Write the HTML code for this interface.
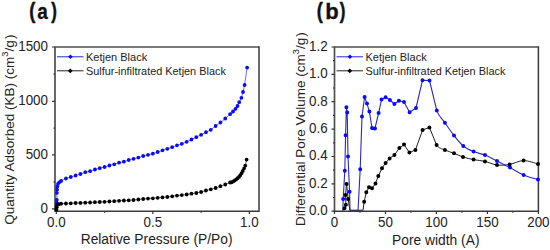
<!DOCTYPE html>
<html><head><meta charset="utf-8"><style>
html,body{margin:0;padding:0;background:#fff;width:550px;height:250px;overflow:hidden}
svg{display:block}
</style></head><body>
<svg width="550" height="250" viewBox="0 0 550 250">
<rect width="550" height="250" fill="#fff"/>
<text transform="translate(29.3 17.8) scale(0.8 1)" font-family='"Liberation Sans", sans-serif' font-weight="bold" font-size="22.6" fill="#111" stroke="#111" stroke-width="0.5">(</text><text transform="translate(37.3 18.9) scale(0.88 1)" font-family='"Liberation Sans", sans-serif' font-weight="bold" font-size="21.5" fill="#111" stroke="#111" stroke-width="0.3">a</text><text transform="translate(51.2 17.8) scale(0.75 1)" font-family='"Liberation Sans", sans-serif' font-weight="bold" font-size="22.6" fill="#111" stroke="#111" stroke-width="0.5">)</text>
<text transform="translate(316.8 17.8) scale(0.8 1)" font-family='"Liberation Sans", sans-serif' font-weight="bold" font-size="22.6" fill="#111" stroke="#111" stroke-width="0.5">(</text><text transform="translate(325.2 18.9) scale(1.0 1)" font-family='"Liberation Sans", sans-serif' font-weight="bold" font-size="22" fill="#111" stroke="#111" stroke-width="0.3">b</text><text transform="translate(339.8 17.8) scale(0.75 1)" font-family='"Liberation Sans", sans-serif' font-weight="bold" font-size="22.6" fill="#111" stroke="#111" stroke-width="0.5">)</text>
<path d="M55 211.2V47H259" fill="none" stroke="#505050" stroke-width="1.7"/><path d="M54.2 211.2H259V46.2" fill="none" stroke="#3a3a3a" stroke-width="1.5"/>
<path d="M334.5 211.2V47H538.4" fill="none" stroke="#505050" stroke-width="1.7"/><path d="M333.7 211.2H538.4V46.2" fill="none" stroke="#3a3a3a" stroke-width="1.5"/>
<path d="M52 208.8H55 M52 154.8H55 M52 101.3H55 M52 47H55 M53.5 181.8H55 M53.5 128.05H55 M53.5 74.15H55 M56.3 211.2V214 M152.85 211.2V214 M249.4 211.2V214 M104.6 211.2V212.8 M201.1 211.2V212.8 M331.5 211.2H334.5 M333 197.5H334.5 M331.5 183.8H334.5 M333 170.1H334.5 M331.5 156.5H334.5 M333 142.8H334.5 M331.5 129.1H334.5 M333 115.4H334.5 M331.5 101.7H334.5 M333 88.0H334.5 M331.5 74.4H334.5 M333 60.7H334.5 M331.5 47.0H334.5 M334.5 211.2V214 M360.0 211.2V212.8 M385.5 211.2V214 M411.0 211.2V212.8 M436.4 211.2V214 M461.9 211.2V212.8 M487.4 211.2V214 M512.9 211.2V212.8 M538.4 211.2V214" stroke="#333" stroke-width="1.2" fill="none"/>
<g font-family='"Liberation Sans", sans-serif' font-size="14" fill="#222"><text transform="translate(48.0 212.80) scale(0.957 1)" text-anchor="end">0</text><text transform="translate(48.0 158.80) scale(0.957 1)" text-anchor="end">500</text><text transform="translate(48.0 105.30) scale(0.957 1)" text-anchor="end">1000</text><text transform="translate(48.0 51.00) scale(0.957 1)" text-anchor="end">1500</text><text transform="translate(56.3 227) scale(0.957 1)" text-anchor="middle">0.0</text><text transform="translate(152.85 227) scale(0.957 1)" text-anchor="middle">0.5</text><text transform="translate(249.4 227) scale(0.957 1)" text-anchor="middle">1.0</text><text transform="translate(327.6 215.20) scale(0.957 1)" text-anchor="end">0.0</text><text transform="translate(327.6 187.83) scale(0.957 1)" text-anchor="end">0.2</text><text transform="translate(327.6 160.47) scale(0.957 1)" text-anchor="end">0.4</text><text transform="translate(327.6 133.10) scale(0.957 1)" text-anchor="end">0.6</text><text transform="translate(327.6 105.73) scale(0.957 1)" text-anchor="end">0.8</text><text transform="translate(327.6 78.37) scale(0.957 1)" text-anchor="end">1.0</text><text transform="translate(327.6 51.00) scale(0.957 1)" text-anchor="end">1.2</text><text transform="translate(334.50 227) scale(0.957 1)" text-anchor="middle">0</text><text transform="translate(385.48 227) scale(0.957 1)" text-anchor="middle">50</text><text transform="translate(436.45 227) scale(0.957 1)" text-anchor="middle">100</text><text transform="translate(487.42 227) scale(0.957 1)" text-anchor="middle">150</text><text transform="translate(538.40 227) scale(0.957 1)" text-anchor="middle">200</text></g>
<text x="156.6" y="244.4" text-anchor="middle" font-family='"Liberation Sans", sans-serif' font-size="13.8" fill="#222">Relative Pressure (P/Po)</text>
<text x="435.8" y="245.4" text-anchor="middle" font-family='"Liberation Sans", sans-serif' font-size="13.8" fill="#222">Pore width (A)</text>
<text transform="translate(13.6 129.6) rotate(-90)" text-anchor="middle" font-family='"Liberation Sans", sans-serif' font-size="13.5" fill="#222">Quantity Adsorbed (KB) (cm<tspan font-size="9.4" dy="-5.2">3</tspan><tspan dy="5.2">/g</tspan><tspan dx="1.2">)</tspan></text>
<text transform="translate(304.6 129.0) rotate(-90)" text-anchor="middle" font-family='"Liberation Sans", sans-serif' font-size="13.5" fill="#222">Differential Pore Volume (cm<tspan font-size="9.4" dy="-5.2">3</tspan><tspan dy="5.2">/g</tspan><tspan dx="1.2">)</tspan></text>
<path d="M57 56.8H83.5" stroke="#2828d0" stroke-width="1.0"/>
<path d="M70.4 54.5L72.7 56.8L70.4 59.1L68.1 56.8Z" fill="#0a0aff"/>
<path d="M57 70.8H83.5" stroke="#222" stroke-width="1.0"/>
<path d="M70.3 68.4L72.7 70.8L70.3 73.2L67.9 70.8Z" fill="#000"/>
<text x="86" y="61" font-family='"Liberation Sans", sans-serif' font-size="11" fill="#222">Ketjen Black</text>
<text x="86" y="75.2" font-family='"Liberation Sans", sans-serif' font-size="10.9" fill="#222">Sulfur-infiltrated Ketjen Black</text>
<path d="M336.5 56.8H363.0" stroke="#2828d0" stroke-width="1.0"/>
<path d="M349.9 54.5L352.2 56.8L349.9 59.1L347.6 56.8Z" fill="#0a0aff"/>
<path d="M336.5 70.8H363.0" stroke="#222" stroke-width="1.0"/>
<path d="M349.8 68.4L352.2 70.8L349.8 73.2L347.4 70.8Z" fill="#000"/>
<text x="365.5" y="61" font-family='"Liberation Sans", sans-serif' font-size="11" fill="#222">Ketjen Black</text>
<text x="365.5" y="75.2" font-family='"Liberation Sans", sans-serif' font-size="10.9" fill="#222">Sulfur-infiltrated Ketjen Black</text>
<path d="M56.6 207.0 L56.7 203.0 L56.8 199.8 L56.9 192.8 L57.1 189.5 L57.4 186.5 L58.0 184.0 L59.2 182.3 L61.1 181.0 L66.0 178.5 L70.8 177.0 L75.6 175.5 L80.4 174.0 L85.3 172.2 L90.1 171.2 L94.9 169.5 L99.7 168.2 L104.6 167.0 L109.4 165.5 L114.2 164.3 L119.1 162.7 L123.9 161.7 L128.7 160.0 L133.5 158.8 L138.4 157.6 L143.2 156.0 L148.0 154.8 L152.8 153.7 L157.7 152.0 L162.5 150.3 L167.3 148.8 L172.2 147.2 L177.0 145.3 L181.8 143.8 L186.6 141.8 L191.5 139.5 L196.3 137.2 L201.1 134.8 L206.0 132.2 L210.8 129.8 L215.6 126.0 L220.4 122.5 L225.3 118.5 L230.1 114.2 L233.0 111.5 L235.5 108.8 L237.5 106.0 L239.2 102.2 L241.4 97.8 L243.0 92.0 L244.6 85.0 L247.1 67.6" stroke="#0a0aff" stroke-width="0.6" fill="none"/>
<path d="M54.70 207.00a1.9 1.9 0 1 0 3.80 0a1.9 1.9 0 1 0 -3.80 0ZM54.80 203.00a1.9 1.9 0 1 0 3.80 0a1.9 1.9 0 1 0 -3.80 0ZM54.90 199.80a1.9 1.9 0 1 0 3.80 0a1.9 1.9 0 1 0 -3.80 0ZM55.00 192.80a1.9 1.9 0 1 0 3.80 0a1.9 1.9 0 1 0 -3.80 0ZM55.20 189.50a1.9 1.9 0 1 0 3.80 0a1.9 1.9 0 1 0 -3.80 0ZM55.50 186.50a1.9 1.9 0 1 0 3.80 0a1.9 1.9 0 1 0 -3.80 0ZM56.10 184.00a1.9 1.9 0 1 0 3.80 0a1.9 1.9 0 1 0 -3.80 0ZM57.30 182.30a1.9 1.9 0 1 0 3.80 0a1.9 1.9 0 1 0 -3.80 0ZM59.23 181.00a1.9 1.9 0 1 0 3.80 0a1.9 1.9 0 1 0 -3.80 0ZM64.05 178.50a1.9 1.9 0 1 0 3.80 0a1.9 1.9 0 1 0 -3.80 0ZM68.88 177.00a1.9 1.9 0 1 0 3.80 0a1.9 1.9 0 1 0 -3.80 0ZM73.71 175.50a1.9 1.9 0 1 0 3.80 0a1.9 1.9 0 1 0 -3.80 0ZM78.54 174.00a1.9 1.9 0 1 0 3.80 0a1.9 1.9 0 1 0 -3.80 0ZM83.36 172.20a1.9 1.9 0 1 0 3.80 0a1.9 1.9 0 1 0 -3.80 0ZM88.19 171.20a1.9 1.9 0 1 0 3.80 0a1.9 1.9 0 1 0 -3.80 0ZM93.02 169.50a1.9 1.9 0 1 0 3.80 0a1.9 1.9 0 1 0 -3.80 0ZM97.85 168.20a1.9 1.9 0 1 0 3.80 0a1.9 1.9 0 1 0 -3.80 0ZM102.67 167.00a1.9 1.9 0 1 0 3.80 0a1.9 1.9 0 1 0 -3.80 0ZM107.50 165.50a1.9 1.9 0 1 0 3.80 0a1.9 1.9 0 1 0 -3.80 0ZM112.33 164.30a1.9 1.9 0 1 0 3.80 0a1.9 1.9 0 1 0 -3.80 0ZM117.16 162.70a1.9 1.9 0 1 0 3.80 0a1.9 1.9 0 1 0 -3.80 0ZM121.98 161.70a1.9 1.9 0 1 0 3.80 0a1.9 1.9 0 1 0 -3.80 0ZM126.81 160.00a1.9 1.9 0 1 0 3.80 0a1.9 1.9 0 1 0 -3.80 0ZM131.64 158.80a1.9 1.9 0 1 0 3.80 0a1.9 1.9 0 1 0 -3.80 0ZM136.47 157.60a1.9 1.9 0 1 0 3.80 0a1.9 1.9 0 1 0 -3.80 0ZM141.29 156.00a1.9 1.9 0 1 0 3.80 0a1.9 1.9 0 1 0 -3.80 0ZM146.12 154.80a1.9 1.9 0 1 0 3.80 0a1.9 1.9 0 1 0 -3.80 0ZM150.95 153.70a1.9 1.9 0 1 0 3.80 0a1.9 1.9 0 1 0 -3.80 0ZM155.78 152.00a1.9 1.9 0 1 0 3.80 0a1.9 1.9 0 1 0 -3.80 0ZM160.60 150.30a1.9 1.9 0 1 0 3.80 0a1.9 1.9 0 1 0 -3.80 0ZM165.43 148.80a1.9 1.9 0 1 0 3.80 0a1.9 1.9 0 1 0 -3.80 0ZM170.26 147.20a1.9 1.9 0 1 0 3.80 0a1.9 1.9 0 1 0 -3.80 0ZM175.09 145.30a1.9 1.9 0 1 0 3.80 0a1.9 1.9 0 1 0 -3.80 0ZM179.91 143.80a1.9 1.9 0 1 0 3.80 0a1.9 1.9 0 1 0 -3.80 0ZM184.74 141.80a1.9 1.9 0 1 0 3.80 0a1.9 1.9 0 1 0 -3.80 0ZM189.57 139.50a1.9 1.9 0 1 0 3.80 0a1.9 1.9 0 1 0 -3.80 0ZM194.40 137.20a1.9 1.9 0 1 0 3.80 0a1.9 1.9 0 1 0 -3.80 0ZM199.22 134.80a1.9 1.9 0 1 0 3.80 0a1.9 1.9 0 1 0 -3.80 0ZM204.05 132.20a1.9 1.9 0 1 0 3.80 0a1.9 1.9 0 1 0 -3.80 0ZM208.88 129.80a1.9 1.9 0 1 0 3.80 0a1.9 1.9 0 1 0 -3.80 0ZM213.71 126.00a1.9 1.9 0 1 0 3.80 0a1.9 1.9 0 1 0 -3.80 0ZM218.53 122.50a1.9 1.9 0 1 0 3.80 0a1.9 1.9 0 1 0 -3.80 0ZM223.36 118.50a1.9 1.9 0 1 0 3.80 0a1.9 1.9 0 1 0 -3.80 0ZM228.19 114.20a1.9 1.9 0 1 0 3.80 0a1.9 1.9 0 1 0 -3.80 0ZM231.10 111.50a1.9 1.9 0 1 0 3.80 0a1.9 1.9 0 1 0 -3.80 0ZM233.60 108.80a1.9 1.9 0 1 0 3.80 0a1.9 1.9 0 1 0 -3.80 0ZM235.60 106.00a1.9 1.9 0 1 0 3.80 0a1.9 1.9 0 1 0 -3.80 0ZM237.30 102.20a1.9 1.9 0 1 0 3.80 0a1.9 1.9 0 1 0 -3.80 0ZM239.50 97.80a1.9 1.9 0 1 0 3.80 0a1.9 1.9 0 1 0 -3.80 0ZM241.10 92.00a1.9 1.9 0 1 0 3.80 0a1.9 1.9 0 1 0 -3.80 0ZM242.70 85.00a1.9 1.9 0 1 0 3.80 0a1.9 1.9 0 1 0 -3.80 0ZM245.20 67.60a1.9 1.9 0 1 0 3.80 0a1.9 1.9 0 1 0 -3.80 0Z" fill="#0a0aff"/>
<path d="M56.5 209.5 L56.8 207.0 L57.2 205.0 L58.8 204.2 L61.1 203.7 L66.0 203.5 L70.8 203.3 L75.6 203.0 L80.4 202.9 L85.3 202.7 L90.1 202.5 L94.9 202.2 L99.7 202.0 L104.6 201.8 L109.4 201.5 L114.2 201.2 L119.1 200.8 L123.9 200.5 L128.7 200.3 L133.5 200.0 L138.4 199.5 L143.2 199.0 L148.0 198.6 L152.8 198.3 L157.7 197.8 L162.5 197.4 L167.3 197.0 L172.2 196.3 L177.0 195.6 L181.8 195.1 L186.6 194.5 L191.5 193.7 L196.3 193.0 L201.1 192.0 L206.0 190.5 L210.8 189.3 L215.6 188.0 L220.4 186.2 L225.3 184.5 L230.1 182.5 L231.6 182.3 L233.2 181.4 L234.7 180.4 L236.2 179.3 L237.6 178.2 L239.0 176.9 L240.3 175.2 L241.6 173.2 L242.8 171.0 L244.1 168.3 L245.3 165.6 L246.6 159.6" stroke="#000" stroke-width="0.6" fill="none"/>
<path d="M54.60 209.50a1.9 1.9 0 1 0 3.80 0a1.9 1.9 0 1 0 -3.80 0ZM54.90 207.00a1.9 1.9 0 1 0 3.80 0a1.9 1.9 0 1 0 -3.80 0ZM55.30 205.00a1.9 1.9 0 1 0 3.80 0a1.9 1.9 0 1 0 -3.80 0ZM56.90 204.20a1.9 1.9 0 1 0 3.80 0a1.9 1.9 0 1 0 -3.80 0ZM59.23 203.70a1.9 1.9 0 1 0 3.80 0a1.9 1.9 0 1 0 -3.80 0ZM64.05 203.50a1.9 1.9 0 1 0 3.80 0a1.9 1.9 0 1 0 -3.80 0ZM68.88 203.30a1.9 1.9 0 1 0 3.80 0a1.9 1.9 0 1 0 -3.80 0ZM73.71 203.00a1.9 1.9 0 1 0 3.80 0a1.9 1.9 0 1 0 -3.80 0ZM78.54 202.90a1.9 1.9 0 1 0 3.80 0a1.9 1.9 0 1 0 -3.80 0ZM83.36 202.70a1.9 1.9 0 1 0 3.80 0a1.9 1.9 0 1 0 -3.80 0ZM88.19 202.50a1.9 1.9 0 1 0 3.80 0a1.9 1.9 0 1 0 -3.80 0ZM93.02 202.20a1.9 1.9 0 1 0 3.80 0a1.9 1.9 0 1 0 -3.80 0ZM97.85 202.00a1.9 1.9 0 1 0 3.80 0a1.9 1.9 0 1 0 -3.80 0ZM102.67 201.80a1.9 1.9 0 1 0 3.80 0a1.9 1.9 0 1 0 -3.80 0ZM107.50 201.50a1.9 1.9 0 1 0 3.80 0a1.9 1.9 0 1 0 -3.80 0ZM112.33 201.20a1.9 1.9 0 1 0 3.80 0a1.9 1.9 0 1 0 -3.80 0ZM117.16 200.80a1.9 1.9 0 1 0 3.80 0a1.9 1.9 0 1 0 -3.80 0ZM121.98 200.50a1.9 1.9 0 1 0 3.80 0a1.9 1.9 0 1 0 -3.80 0ZM126.81 200.30a1.9 1.9 0 1 0 3.80 0a1.9 1.9 0 1 0 -3.80 0ZM131.64 200.00a1.9 1.9 0 1 0 3.80 0a1.9 1.9 0 1 0 -3.80 0ZM136.47 199.50a1.9 1.9 0 1 0 3.80 0a1.9 1.9 0 1 0 -3.80 0ZM141.29 199.00a1.9 1.9 0 1 0 3.80 0a1.9 1.9 0 1 0 -3.80 0ZM146.12 198.60a1.9 1.9 0 1 0 3.80 0a1.9 1.9 0 1 0 -3.80 0ZM150.95 198.30a1.9 1.9 0 1 0 3.80 0a1.9 1.9 0 1 0 -3.80 0ZM155.78 197.80a1.9 1.9 0 1 0 3.80 0a1.9 1.9 0 1 0 -3.80 0ZM160.60 197.40a1.9 1.9 0 1 0 3.80 0a1.9 1.9 0 1 0 -3.80 0ZM165.43 197.00a1.9 1.9 0 1 0 3.80 0a1.9 1.9 0 1 0 -3.80 0ZM170.26 196.30a1.9 1.9 0 1 0 3.80 0a1.9 1.9 0 1 0 -3.80 0ZM175.09 195.60a1.9 1.9 0 1 0 3.80 0a1.9 1.9 0 1 0 -3.80 0ZM179.91 195.10a1.9 1.9 0 1 0 3.80 0a1.9 1.9 0 1 0 -3.80 0ZM184.74 194.50a1.9 1.9 0 1 0 3.80 0a1.9 1.9 0 1 0 -3.80 0ZM189.57 193.70a1.9 1.9 0 1 0 3.80 0a1.9 1.9 0 1 0 -3.80 0ZM194.40 193.00a1.9 1.9 0 1 0 3.80 0a1.9 1.9 0 1 0 -3.80 0ZM199.22 192.00a1.9 1.9 0 1 0 3.80 0a1.9 1.9 0 1 0 -3.80 0ZM204.05 190.50a1.9 1.9 0 1 0 3.80 0a1.9 1.9 0 1 0 -3.80 0ZM208.88 189.30a1.9 1.9 0 1 0 3.80 0a1.9 1.9 0 1 0 -3.80 0ZM213.71 188.00a1.9 1.9 0 1 0 3.80 0a1.9 1.9 0 1 0 -3.80 0ZM218.53 186.20a1.9 1.9 0 1 0 3.80 0a1.9 1.9 0 1 0 -3.80 0ZM223.36 184.50a1.9 1.9 0 1 0 3.80 0a1.9 1.9 0 1 0 -3.80 0ZM228.19 182.50a1.9 1.9 0 1 0 3.80 0a1.9 1.9 0 1 0 -3.80 0ZM229.70 182.30a1.9 1.9 0 1 0 3.80 0a1.9 1.9 0 1 0 -3.80 0ZM231.30 181.40a1.9 1.9 0 1 0 3.80 0a1.9 1.9 0 1 0 -3.80 0ZM232.80 180.40a1.9 1.9 0 1 0 3.80 0a1.9 1.9 0 1 0 -3.80 0ZM234.30 179.30a1.9 1.9 0 1 0 3.80 0a1.9 1.9 0 1 0 -3.80 0ZM235.70 178.20a1.9 1.9 0 1 0 3.80 0a1.9 1.9 0 1 0 -3.80 0ZM237.10 176.90a1.9 1.9 0 1 0 3.80 0a1.9 1.9 0 1 0 -3.80 0ZM238.40 175.20a1.9 1.9 0 1 0 3.80 0a1.9 1.9 0 1 0 -3.80 0ZM239.70 173.20a1.9 1.9 0 1 0 3.80 0a1.9 1.9 0 1 0 -3.80 0ZM240.90 171.00a1.9 1.9 0 1 0 3.80 0a1.9 1.9 0 1 0 -3.80 0ZM242.20 168.30a1.9 1.9 0 1 0 3.80 0a1.9 1.9 0 1 0 -3.80 0ZM243.40 165.60a1.9 1.9 0 1 0 3.80 0a1.9 1.9 0 1 0 -3.80 0ZM244.70 159.60a1.9 1.9 0 1 0 3.80 0a1.9 1.9 0 1 0 -3.80 0Z" fill="#000"/>
<path d="M342.80 211.00 L343.20 199.00 L344.80 170.70 L345.60 135.20 L346.40 107.20 L347.20 112.50 L348.00 156.50 L349.60 191.80 L350.00 211.00 L358.00 211.00 L360.20 169.20 L362.00 116.40 L364.60 97.00 L367.00 103.60 L369.40 111.60 L372.00 128.00 L375.00 128.40 L378.60 113.00 L381.60 99.50 L385.60 97.30 L389.90 100.00 L394.40 104.00 L398.90 100.80 L404.00 102.00 L409.60 112.30 L416.00 108.00 L422.50 80.20 L429.50 80.50 L436.80 110.60 C439.37 117.65 442.03 118.65 444.90 122.80 C447.77 126.95 450.93 131.63 454.00 135.50 C457.07 139.37 460.03 143.32 463.30 146.00 C466.57 148.68 469.98 150.08 473.60 151.60 C477.22 153.12 481.10 153.53 485.00 155.10 C488.90 156.67 492.83 158.92 497.00 161.00 C501.17 163.08 505.57 165.27 510.00 167.60 C514.43 169.93 518.93 173.00 523.60 175.00 C528.27 177.00 535.60 178.83 538.00 179.60" stroke="#2a2ab8" stroke-width="1.1" fill="none" stroke-linejoin="round"/>
<path d="M341.20 199.00a2.0 2.0 0 1 0 4.00 0a2.0 2.0 0 1 0 -4.00 0ZM342.80 170.70a2.0 2.0 0 1 0 4.00 0a2.0 2.0 0 1 0 -4.00 0ZM343.60 135.20a2.0 2.0 0 1 0 4.00 0a2.0 2.0 0 1 0 -4.00 0ZM344.40 107.20a2.0 2.0 0 1 0 4.00 0a2.0 2.0 0 1 0 -4.00 0ZM345.20 112.50a2.0 2.0 0 1 0 4.00 0a2.0 2.0 0 1 0 -4.00 0ZM346.00 156.50a2.0 2.0 0 1 0 4.00 0a2.0 2.0 0 1 0 -4.00 0ZM347.60 191.80a2.0 2.0 0 1 0 4.00 0a2.0 2.0 0 1 0 -4.00 0ZM358.20 169.20a2.0 2.0 0 1 0 4.00 0a2.0 2.0 0 1 0 -4.00 0ZM360.00 116.40a2.0 2.0 0 1 0 4.00 0a2.0 2.0 0 1 0 -4.00 0ZM362.60 97.00a2.0 2.0 0 1 0 4.00 0a2.0 2.0 0 1 0 -4.00 0ZM365.00 103.60a2.0 2.0 0 1 0 4.00 0a2.0 2.0 0 1 0 -4.00 0ZM367.40 111.60a2.0 2.0 0 1 0 4.00 0a2.0 2.0 0 1 0 -4.00 0ZM370.00 128.00a2.0 2.0 0 1 0 4.00 0a2.0 2.0 0 1 0 -4.00 0ZM373.00 128.40a2.0 2.0 0 1 0 4.00 0a2.0 2.0 0 1 0 -4.00 0ZM376.60 113.00a2.0 2.0 0 1 0 4.00 0a2.0 2.0 0 1 0 -4.00 0ZM379.60 99.50a2.0 2.0 0 1 0 4.00 0a2.0 2.0 0 1 0 -4.00 0ZM383.60 97.30a2.0 2.0 0 1 0 4.00 0a2.0 2.0 0 1 0 -4.00 0ZM387.90 100.00a2.0 2.0 0 1 0 4.00 0a2.0 2.0 0 1 0 -4.00 0ZM392.40 104.00a2.0 2.0 0 1 0 4.00 0a2.0 2.0 0 1 0 -4.00 0ZM396.90 100.80a2.0 2.0 0 1 0 4.00 0a2.0 2.0 0 1 0 -4.00 0ZM402.00 102.00a2.0 2.0 0 1 0 4.00 0a2.0 2.0 0 1 0 -4.00 0ZM407.60 112.30a2.0 2.0 0 1 0 4.00 0a2.0 2.0 0 1 0 -4.00 0ZM414.00 108.00a2.0 2.0 0 1 0 4.00 0a2.0 2.0 0 1 0 -4.00 0ZM420.50 80.20a2.0 2.0 0 1 0 4.00 0a2.0 2.0 0 1 0 -4.00 0ZM427.50 80.50a2.0 2.0 0 1 0 4.00 0a2.0 2.0 0 1 0 -4.00 0ZM434.80 110.60a2.0 2.0 0 1 0 4.00 0a2.0 2.0 0 1 0 -4.00 0ZM442.90 122.80a2.0 2.0 0 1 0 4.00 0a2.0 2.0 0 1 0 -4.00 0ZM452.00 135.50a2.0 2.0 0 1 0 4.00 0a2.0 2.0 0 1 0 -4.00 0ZM461.30 146.00a2.0 2.0 0 1 0 4.00 0a2.0 2.0 0 1 0 -4.00 0ZM471.60 151.60a2.0 2.0 0 1 0 4.00 0a2.0 2.0 0 1 0 -4.00 0ZM483.00 155.10a2.0 2.0 0 1 0 4.00 0a2.0 2.0 0 1 0 -4.00 0ZM495.00 161.00a2.0 2.0 0 1 0 4.00 0a2.0 2.0 0 1 0 -4.00 0ZM508.00 167.60a2.0 2.0 0 1 0 4.00 0a2.0 2.0 0 1 0 -4.00 0ZM521.60 175.00a2.0 2.0 0 1 0 4.00 0a2.0 2.0 0 1 0 -4.00 0ZM536.00 179.60a2.0 2.0 0 1 0 4.00 0a2.0 2.0 0 1 0 -4.00 0Z" fill="#0a0aff"/>
<path d="M343.00 210.30 L344.50 208.30 L345.90 204.70 L345.50 195.00 L346.60 184.00 L348.10 198.90 L349.20 206.00 L350.00 210.20 L363.00 210.20 L364.20 201.80 L366.30 192.30 L369.00 187.30 L372.00 188.30 L375.50 183.50 L378.30 176.00 L382.00 168.30 L385.60 163.00 L389.60 158.40 L394.40 155.00 L399.40 148.00 L404.00 144.60 L409.40 152.60 L415.40 150.00 L422.60 130.00 L429.40 127.40 L436.60 145.00 C439.18 148.77 442.00 148.62 444.90 150.00 C447.80 151.38 450.98 152.13 454.00 153.30 C457.02 154.47 459.73 155.95 463.00 157.00 C466.27 158.05 469.93 158.87 473.60 159.60 C477.27 160.33 481.10 160.50 485.00 161.40 C488.90 162.30 492.90 164.50 497.00 165.00 C501.10 165.50 505.17 165.13 509.60 164.40 C514.03 163.67 518.87 160.67 523.60 160.60 C528.33 160.53 535.60 163.43 538.00 164.00" stroke="#222" stroke-width="1.0" fill="none" stroke-linejoin="round"/>
<path d="M342.50 208.30a2.0 2.0 0 1 0 4.00 0a2.0 2.0 0 1 0 -4.00 0ZM343.90 204.70a2.0 2.0 0 1 0 4.00 0a2.0 2.0 0 1 0 -4.00 0ZM343.50 195.00a2.0 2.0 0 1 0 4.00 0a2.0 2.0 0 1 0 -4.00 0ZM344.60 184.00a2.0 2.0 0 1 0 4.00 0a2.0 2.0 0 1 0 -4.00 0ZM346.10 198.90a2.0 2.0 0 1 0 4.00 0a2.0 2.0 0 1 0 -4.00 0ZM362.20 201.80a2.0 2.0 0 1 0 4.00 0a2.0 2.0 0 1 0 -4.00 0ZM364.30 192.30a2.0 2.0 0 1 0 4.00 0a2.0 2.0 0 1 0 -4.00 0ZM367.00 187.30a2.0 2.0 0 1 0 4.00 0a2.0 2.0 0 1 0 -4.00 0ZM370.00 188.30a2.0 2.0 0 1 0 4.00 0a2.0 2.0 0 1 0 -4.00 0ZM373.50 183.50a2.0 2.0 0 1 0 4.00 0a2.0 2.0 0 1 0 -4.00 0ZM376.30 176.00a2.0 2.0 0 1 0 4.00 0a2.0 2.0 0 1 0 -4.00 0ZM380.00 168.30a2.0 2.0 0 1 0 4.00 0a2.0 2.0 0 1 0 -4.00 0ZM383.60 163.00a2.0 2.0 0 1 0 4.00 0a2.0 2.0 0 1 0 -4.00 0ZM387.60 158.40a2.0 2.0 0 1 0 4.00 0a2.0 2.0 0 1 0 -4.00 0ZM392.40 155.00a2.0 2.0 0 1 0 4.00 0a2.0 2.0 0 1 0 -4.00 0ZM397.40 148.00a2.0 2.0 0 1 0 4.00 0a2.0 2.0 0 1 0 -4.00 0ZM402.00 144.60a2.0 2.0 0 1 0 4.00 0a2.0 2.0 0 1 0 -4.00 0ZM407.40 152.60a2.0 2.0 0 1 0 4.00 0a2.0 2.0 0 1 0 -4.00 0ZM413.40 150.00a2.0 2.0 0 1 0 4.00 0a2.0 2.0 0 1 0 -4.00 0ZM420.60 130.00a2.0 2.0 0 1 0 4.00 0a2.0 2.0 0 1 0 -4.00 0ZM427.40 127.40a2.0 2.0 0 1 0 4.00 0a2.0 2.0 0 1 0 -4.00 0ZM434.60 145.00a2.0 2.0 0 1 0 4.00 0a2.0 2.0 0 1 0 -4.00 0ZM442.90 150.00a2.0 2.0 0 1 0 4.00 0a2.0 2.0 0 1 0 -4.00 0ZM452.00 153.30a2.0 2.0 0 1 0 4.00 0a2.0 2.0 0 1 0 -4.00 0ZM461.00 157.00a2.0 2.0 0 1 0 4.00 0a2.0 2.0 0 1 0 -4.00 0ZM471.60 159.60a2.0 2.0 0 1 0 4.00 0a2.0 2.0 0 1 0 -4.00 0ZM483.00 161.40a2.0 2.0 0 1 0 4.00 0a2.0 2.0 0 1 0 -4.00 0ZM495.00 165.00a2.0 2.0 0 1 0 4.00 0a2.0 2.0 0 1 0 -4.00 0ZM507.60 164.40a2.0 2.0 0 1 0 4.00 0a2.0 2.0 0 1 0 -4.00 0ZM521.60 160.60a2.0 2.0 0 1 0 4.00 0a2.0 2.0 0 1 0 -4.00 0ZM536.00 164.00a2.0 2.0 0 1 0 4.00 0a2.0 2.0 0 1 0 -4.00 0Z" fill="#000"/>
</svg>
</body></html>
